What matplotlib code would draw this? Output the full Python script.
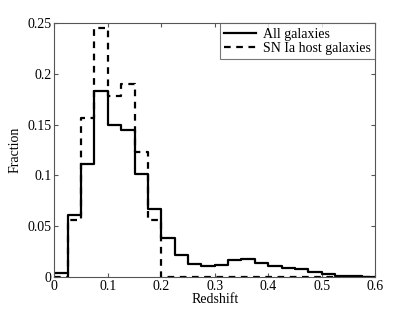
import matplotlib
matplotlib.use("Agg")
import matplotlib.pyplot as plt
import numpy as np

edges = np.arange(0, 0.6001, 0.025)
all_gal = [0.004, 0.061, 0.111, 0.183, 0.150, 0.145, 0.101, 0.067, 0.038, 0.021,
           0.013, 0.011, 0.012, 0.017, 0.018, 0.014, 0.011, 0.009, 0.0076, 0.005,
           0.0024, 0.001, 0.0003, 0.0]
sn_host = [0.0, 0.056, 0.157, 0.245, 0.178, 0.190, 0.123, 0.056, 0, 0,
           0, 0, 0, 0, 0, 0, 0, 0, 0, 0, 0, 0, 0, 0]

plt.rcParams['font.family'] = ['Liberation Serif', 'DejaVu Serif']
fig = plt.figure(figsize=(4.15, 3.12), dpi=100)
ax = fig.add_axes([0.131, 0.113, 0.773, 0.812])

ax.step(edges, list(all_gal) + [all_gal[-1]], where='post', color='black', lw=1.6,
        label='All galaxies')
ax.step(edges, list(sn_host) + [sn_host[-1]], where='post', color='black', lw=1.6,
        ls=(0, (3, 2.5)), label='SN Ia host galaxies')

ax.set_xlim(0, 0.6)
ax.set_ylim(0, 0.25)
ax.set_xticks([0, 0.1, 0.2, 0.3, 0.4, 0.5, 0.6])
ax.set_xticklabels(['0', '0.1', '0.2', '0.3', '0.4', '0.5', '0.6'])
ax.set_yticks([0, 0.05, 0.1, 0.15, 0.2, 0.25])
ax.set_yticklabels(['0', '0.05', '0.1', '0.15', '0.2', '0.25'])
ax.tick_params(direction='in', top=True, right=True, length=3, labelsize=10,
               color='#555555', pad=2)
for s in ax.spines.values():
    s.set_color('#555555')
    s.set_linewidth(0.8)
ax.set_xlabel('Redshift', fontsize=10, labelpad=0)
ax.set_ylabel('Fraction', fontsize=10, labelpad=4)

leg = ax.legend(loc='upper right', fontsize=10, frameon=True, fancybox=False,
                borderaxespad=0, handlelength=2.3, handletextpad=0.5,
                borderpad=0.3, labelspacing=0.1)
leg.get_frame().set_edgecolor('#555555')
leg.get_frame().set_linewidth(0.8)

fig.savefig('out.png', dpi=100)
